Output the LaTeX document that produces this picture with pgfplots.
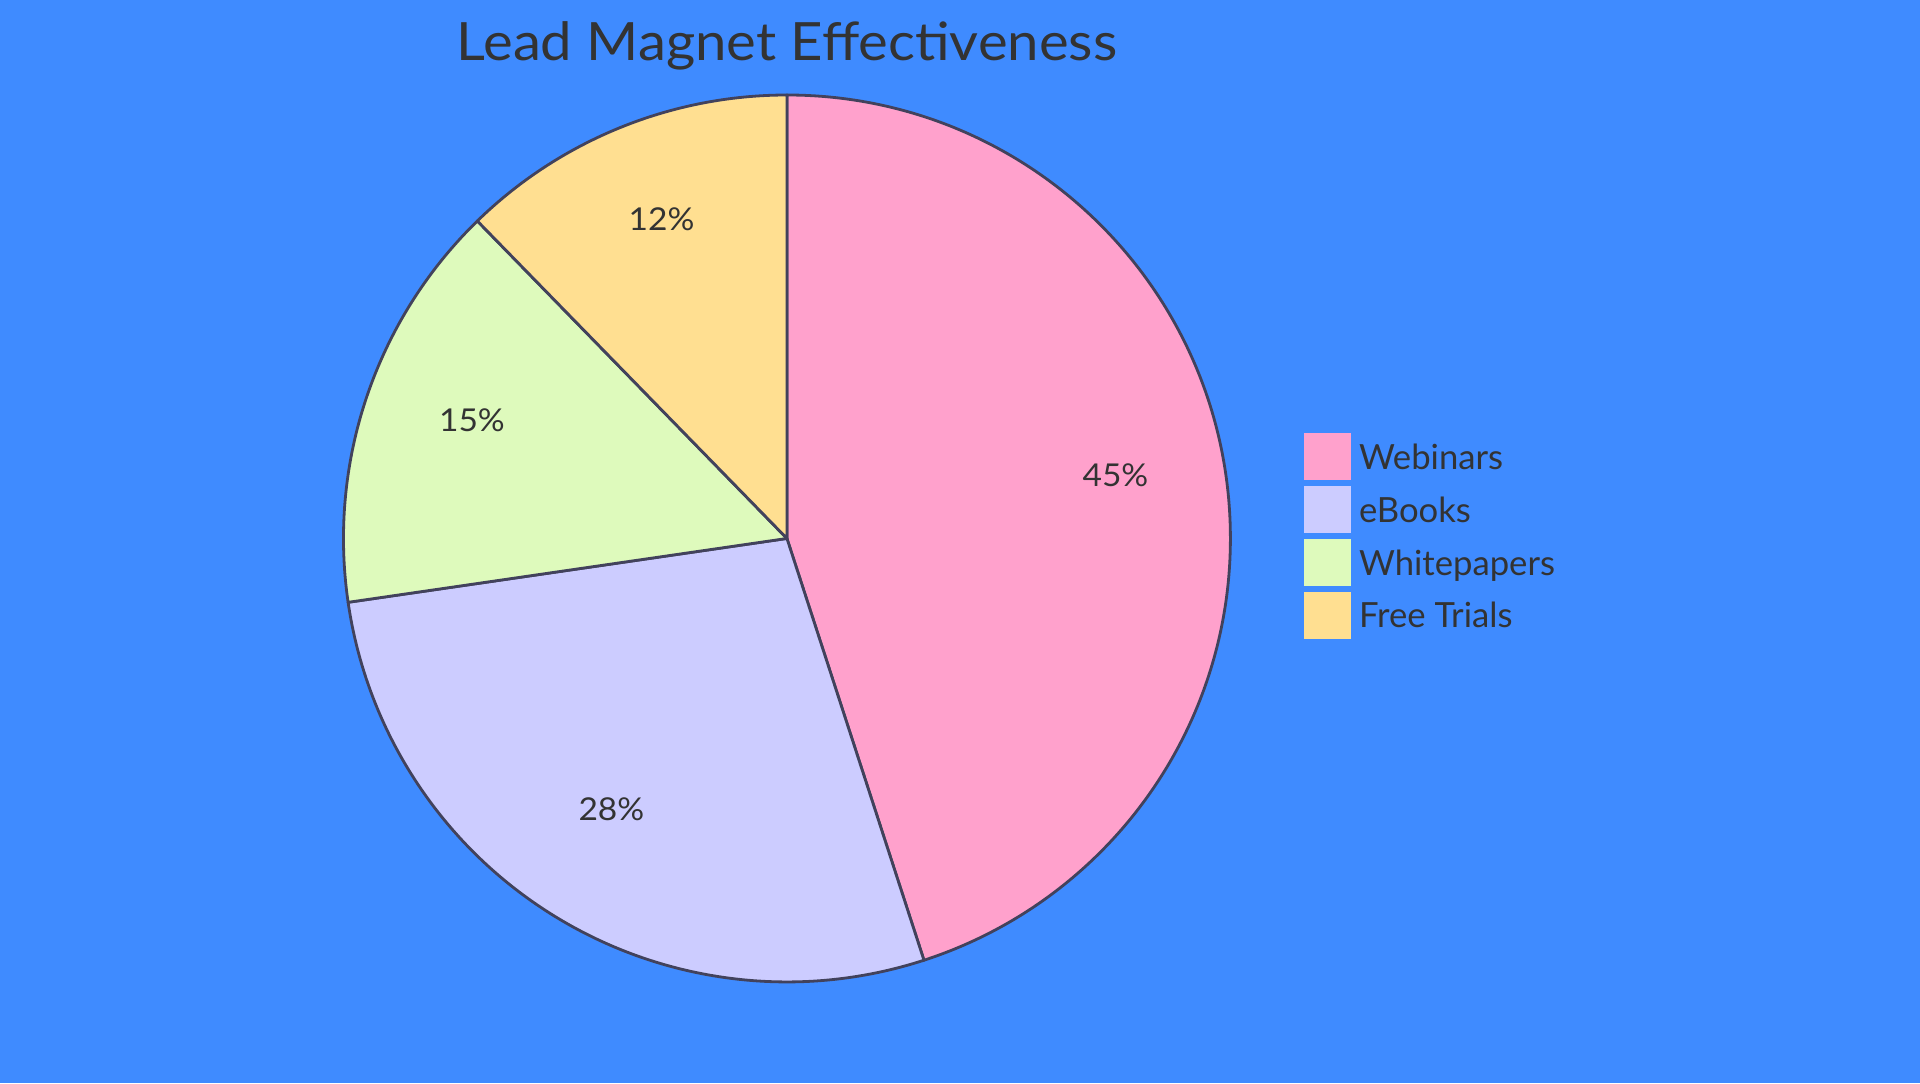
\documentclass[border=0pt]{standalone}
\usepackage{pgfplots}
\pgfplotsset{compat=1.18}
\usepackage{pgfplotstable}
\usepackage{fontspec}
\setmainfont{Lato}
\newfontfamily\widefont{Lato}[FakeStretch=1.065]

\definecolor{bgblue}{RGB}{63,139,255}
\definecolor{slicepink}{RGB}{255,161,204}
\definecolor{slicelav}{RGB}{204,204,255}
\definecolor{slicegreen}{RGB}{222,250,188}
\definecolor{sliceyellow}{RGB}{255,223,145}
\definecolor{edge}{RGB}{66,66,92}
\definecolor{txt}{RGB}{51,51,51}

% share of each lead magnet
\pgfplotstableread{
name value colour
Webinars 45 slicepink
eBooks 27.7 slicelav
Whitepapers 15 slicegreen
FreeTrials 12.3 sliceyellow
}\piedata

\begin{document}
\begin{tikzpicture}
\useasboundingbox (0,0) rectangle (720pt,406.125pt);
\fill[bgblue] (0,0) rectangle (720pt,406.125pt);
\begin{axis}[
    at={(295.1pt,204.2pt)}, anchor=center,
    x=166.3pt, y=166.3pt,
    xmin=-1, xmax=1, ymin=-1, ymax=1,
    hide axis, clip=false,
    legend image code/.code={\fill[#1] (0pt,-3.9pt) rectangle (17.25pt,13.3pt);},
    legend style={at={(1.0823,0.619)}, anchor=north west, draw=none, fill=none,
        inner sep=0pt, row sep=2.2pt,
        cells={anchor=base west},
        nodes={inner sep=0pt, text=txt, font=\fontsize{13}{16}\selectfont},
        /tikz/every odd column/.append style={column sep=3pt}},
]
\addlegendimage{slicepink}\addlegendentry{Webinars}
\addlegendimage{slicelav}\addlegendentry{eBooks}
\addlegendimage{slicegreen}\addlegendentry{Whitepapers}
\addlegendimage{sliceyellow}\addlegendentry{Free Trials}

\def\curang{90}
\pgfplotsforeachungrouped \i in {0,...,3}{%
  \pgfplotstablegetelem{\i}{value}\of\piedata \let\val\pgfplotsretval
  \pgfplotstablegetelem{\i}{colour}\of\piedata \let\col\pgfplotsretval
  \pgfmathsetmacro\endang{\curang-3.6*\val}
  \pgfmathsetmacro\midang{(\curang+\endang)/2}
  \pgfmathtruncatemacro\pct{round(\val)}
  \edef\slice{\noexpand\filldraw[fill=\col, draw=edge, line width=1.05pt, line join=round]
    (axis cs:0,0) -- (axis cs:{cos(\curang)},{sin(\curang)})
    arc[start angle=\curang, end angle=\endang, radius=166.3pt] -- cycle;
    \noexpand\node[anchor=base, inner sep=0pt, text=txt, font=\noexpand\widefont\noexpand\fontsize{11.8}{14}\noexpand\selectfont]
    at (axis cs:{0.75*cos(\midang)},{0.75*sin(\midang)}) {\pct\noexpand\%};}
  \slice
  \global\let\curang\endang
}
\node[anchor=base, inner sep=0pt, text=txt, font=\widefont\fontsize{19.8}{24}\selectfont]
  at (axis description cs:0.5,1.0385) {Lead Magnet Effectiveness};
\end{axis}
\end{tikzpicture}
\end{document}
